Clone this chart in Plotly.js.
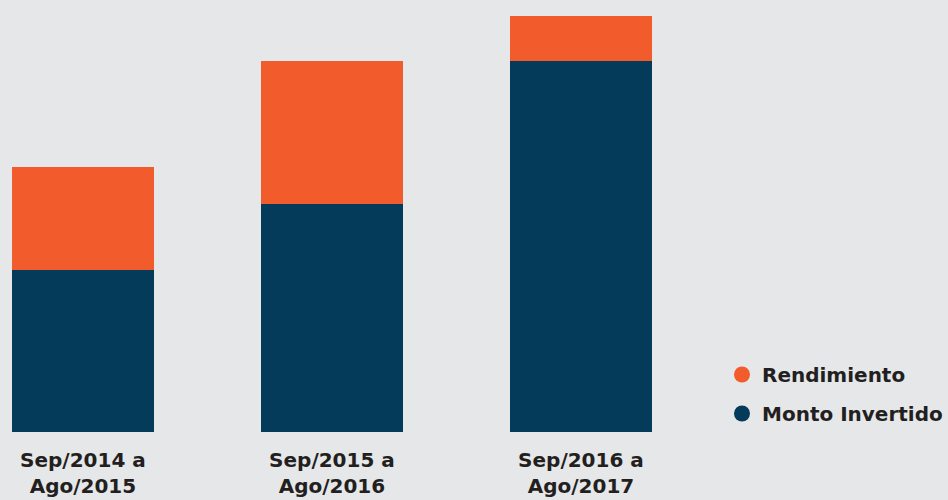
<!DOCTYPE html>
<html>
<head>
<meta charset="utf-8">
<script src="https://cdn.plot.ly/plotly-3.0.1.min.js"></script>
<style>html,body{margin:0;padding:0;background:#e6e7e9;}#chart{width:948px;height:500px;}</style>
</head>
<body>
<div id="chart"></div>
<script>
const categories = ["Sep/2014 a<br>Ago/2015", "Sep/2015 a<br>Ago/2016", "Sep/2016 a<br>Ago/2017"];
const montoInvertido = [162, 228, 371];
const rendimiento = [103, 143, 45];
const seriesNames = ["Monto Invertido", "Rendimiento"];
const navy = "#043a5a";
const orange = "#f25b2c";

const traces = [
  {type: "bar", x: categories, y: montoInvertido, name: seriesNames[0], marker: {color: navy}, showlegend: false, hoverinfo: "y"},
  {type: "bar", x: categories, y: rendimiento, name: seriesNames[1], marker: {color: orange}, showlegend: false, hoverinfo: "y"},
  {type: "scatter", mode: "markers", x: [null], y: [null], name: seriesNames[1], legendgroup: "a", marker: {color: orange, size: 20, symbol: "circle"}},
  {type: "scatter", mode: "markers", x: [null], y: [null], name: seriesNames[0], legendgroup: "b", marker: {color: navy, size: 20, symbol: "circle"}}
];

const labelFont = {size: 20, family: "'DejaVu Sans', sans-serif", weight: "bold", color: "#231f20"};

const layout = {
  width: 948, height: 500,
  paper_bgcolor: "#e6e7e9", plot_bgcolor: "#e6e7e9",
  margin: {l: 0, r: 0, t: 0, b: 68},
  barmode: "stack",
  bargap: 0.43,
  font: {family: "'DejaVu Sans', sans-serif", color: "#231f20"},
  xaxis: {
    domain: [0, 700/948],
    range: [-0.333, 2.478],
    showgrid: false, zeroline: false, showline: false, ticks: "",
    tickfont: labelFont,
    ticklabelstandoff: 14,
    fixedrange: true
  },
  yaxis: {
    range: [0, 432],
    showgrid: false, zeroline: false, showline: false, showticklabels: false, ticks: "",
    fixedrange: true
  },
  showlegend: true,
  legend: {
    x: 0.7616, y: 0.088, xanchor: "left", yanchor: "middle",
    font: labelFont,
    bgcolor: "rgba(0,0,0,0)",
    traceorder: "grouped",
    tracegroupgap: 10,
    itemsizing: "trace"
  }
};

Plotly.newPlot("chart", traces, layout, {displayModeBar: false, staticPlot: true});
</script>
</body>
</html>
